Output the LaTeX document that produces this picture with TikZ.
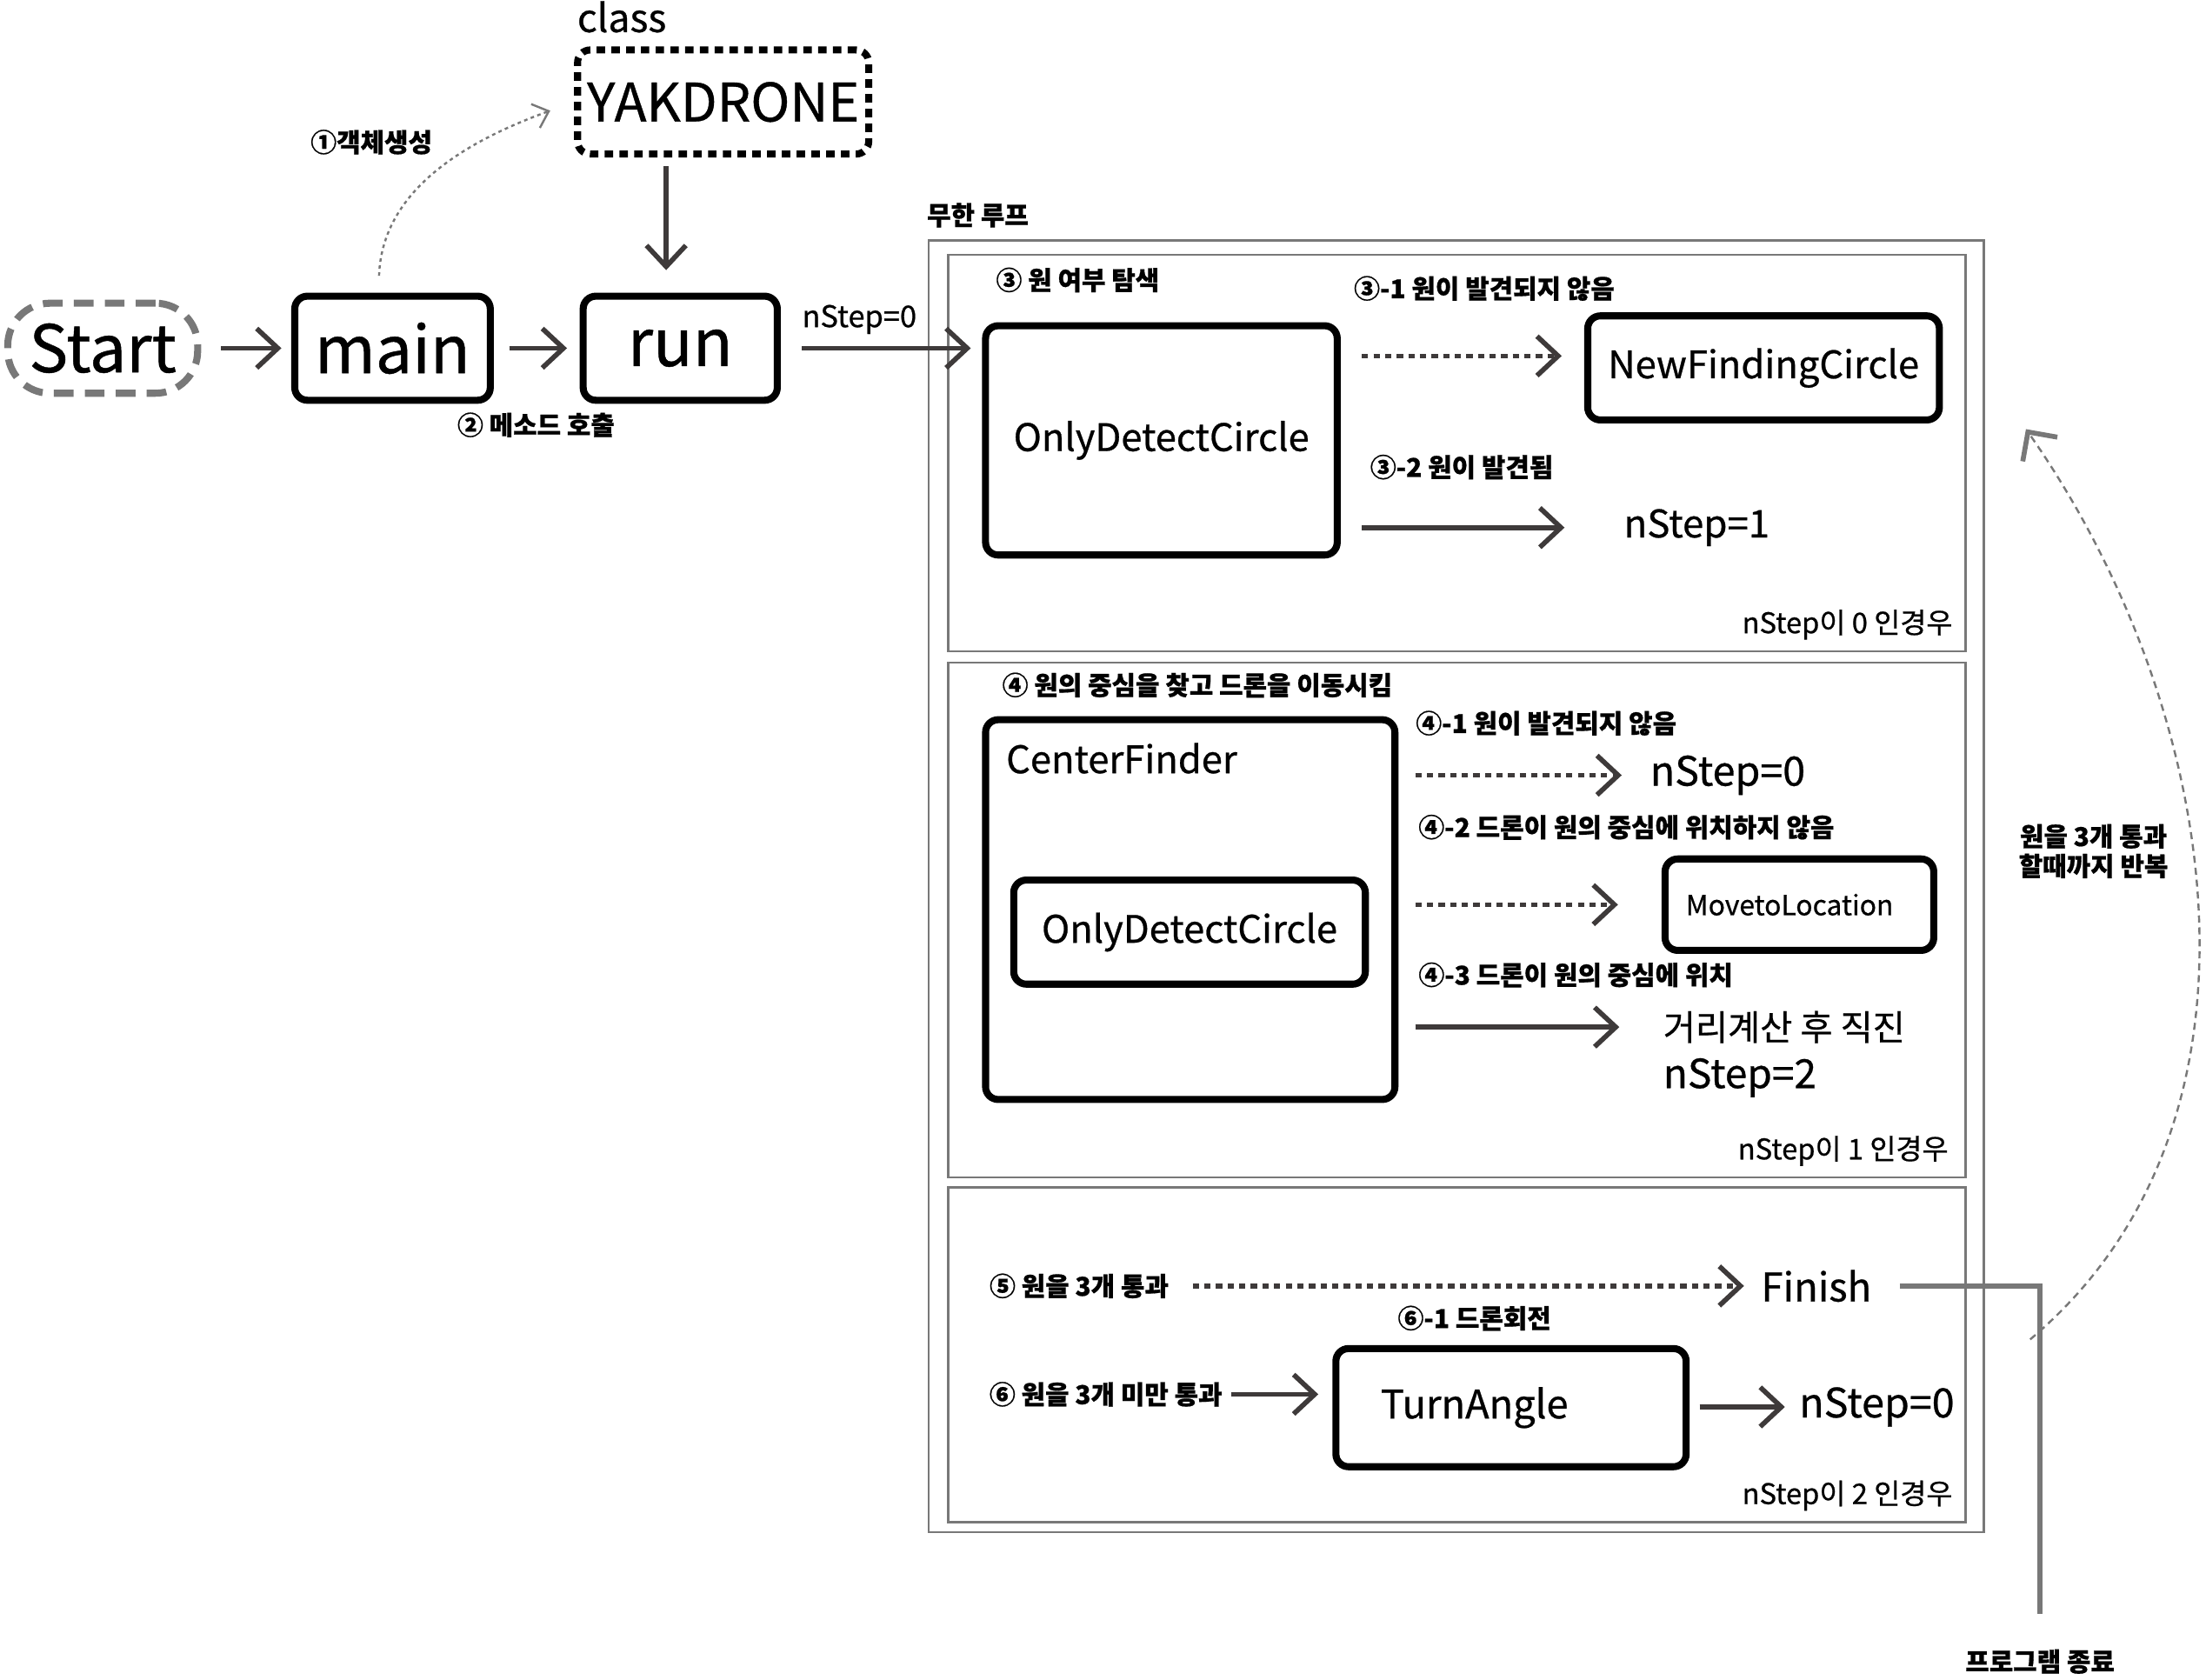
\documentclass[tikz,border=0pt]{standalone}
\usepackage{fontspec}
\setmainfont{Noto Sans CJK KR}[FakeBold=0.6]
\usetikzlibrary{arrows.meta}
\definecolor{arrowgray}{HTML}{3E3A3A}
\definecolor{linegray}{HTML}{787878}
\newcommand{\fsz}[1]{\fontsize{#1}{#1}\selectfont}
\begin{document}
\begin{tikzpicture}
[x=0.02cm,y=-0.02cm,
 box/.style={draw,line width=0.1cm,rounded corners=0.18cm,inner sep=0pt,font=\fsz{15.3}},
 arr/.style={draw=arrowgray,line width=0.07cm,-{Straight Barb[length=0.3cm,width=0.56cm]}},
 darr/.style={arr,dash pattern=on 0.09cm off 0.075cm},
 panel/.style={draw=linegray,line width=0.03cm},
 lab/.style={font=\bfseries\fsz{10.5}},
 cnd/.style={font=\fsz{11.5}},
 gcurve/.style={draw=linegray,line width=0.03cm,dash pattern=on 0.1cm off 0.07cm}]
\useasboundingbox (0,0) rectangle (1568,1193.5);

\node[draw=linegray,line width=0.1cm,dash pattern=on 0.28cm off 0.16cm,rounded corners=0.6cm,
  minimum width=2.7cm,minimum height=1.28cm,font=\fsz{26.5}] (start) at (73,247.5) {Start};
\node[box,minimum width=2.78cm,minimum height=1.48cm,font=\fsz{26.5}] (main) at (279,247.5) {main};
\node[box,minimum width=2.76cm,minimum height=1.48cm,font=\fsz{26.5}] (run) at (483.5,247.5) {run};
\node[box,dash pattern=on 0.12cm off 0.09cm,minimum width=4.14cm,minimum height=1.48cm,
  font=\fsz{21.4}] (yak) at (514,72.5) {YAKDRONE};
\node[font=\fsz{15.7}] (cls) at (442,12) {class};
\node[lab] (l1) at (264,101) {①객체생성};
\node[lab] (l2) at (381,302) {② 메소드 호출};

\draw[arr,shorten <=0.28cm,shorten >=0.14cm] (start) -- (main);
\draw[arr,shorten <=0.22cm,shorten >=0.18cm] (main) -- (run);
\draw[arr,shorten <=0.12cm,shorten >=0.32cm] ([xshift=-0.2cm]run.north |- yak.south) -- ([xshift=-0.2cm]run.north);
\draw[gcurve,dash pattern=on 0.05cm off 0.05cm,-{Straight Barb[length=0.2cm,width=0.36cm,line width=0.03cm]},
  shorten <=0.24cm,shorten >=0.36cm] ([xshift=-0.2cm]main.north) to[out=88,in=200] (yak.west);

\node[lab] (inf) at (695,153) {무한 루프};
\draw[panel] (660,171) rectangle (1410,1089);
\foreach \t/\b in {181/463,471/837,844/1082}
  \draw[panel] (674,\t) rectangle (1397,\b);

\node[box,minimum width=5cm,minimum height=3.26cm] (odc) at (825.5,313) {OnlyDetectCircle};
\node[box,minimum width=5cm,minimum height=1.48cm] (nfc) at (1253.5,261.5) {NewFindingCircle};
\node[font=\fsz{15.4}] (n1) at (1206,375) {nStep=1};
\node[lab] (l3) at (766,199) {③ 원 여부 탐색};
\node[lab] (l31) at (1055,205) {③-1 원이 발견되지 않음};
\node[lab] (l32) at (1039,332) {③-2 원이 발견됨};
\node[cnd,anchor=east] (c0) at (1394,444) {nStep이 0 인경우};

\draw[arr,shorten <=0.3cm,shorten >=0.16cm] (run.east) -- (run.east -| odc.west)
  node[pos=0.39,above=0.05cm,font=\fsz{12.1}] (ns0) {nStep=0};
\draw[darr,shorten <=0.3cm,shorten >=0.32cm] ([yshift=0.17cm]odc.east |- nfc.west) -- ([yshift=0.17cm]nfc.west);
\draw[arr,shorten <=0.3cm,shorten >=0.72cm] (odc.east |- n1.west) -- (n1.west);

\node[box,minimum width=5.82cm,minimum height=5.4cm] (cf) at (846,646.5) {};
\node[font=\fsz{15.3},anchor=west] (cft) at (709,539) {CenterFinder};
\node[box,minimum width=5cm,minimum height=1.48cm] (odc2) at (845.5,662.5) {OnlyDetectCircle};
\node[box,minimum width=3.82cm,minimum height=1.3cm,font=\fsz{11.2}] (mtl) at (1279,643) {MovetoLocation\rule{0.28cm}{0pt}};
\node[font=\fsz{16.4}] (n0) at (1228,551) {nStep=0};
\node[font=\fsz{14.2},anchor=west] (dist) at (1176,730) {거리계산 후 직진};
\node[font=\fsz{16.2},anchor=west] (n2) at (1176,766) {nStep=2};
\node[lab] (l4) at (851,487) {④ 원의 중심을 찾고 드론을 이동시킴};
\node[lab] (l41) at (1099,514) {④-1 원이 발견되지 않음};
\node[lab] (l42) at (1156,588) {④-2 드론이 원의 중심에 위치하지 않음};
\node[lab] (l43) at (1120,693) {④-3 드론이 원의 중심에 위치};
\node[cnd,anchor=east] (c1) at (1391,818) {nStep이 1 인경우};

\draw[darr,shorten <=0.24cm,shorten >=0.28cm] (cf.east |- n0.west) -- (n0.west);
\draw[darr,shorten <=0.24cm,shorten >=0.62cm] (cf.east |- mtl.west) -- (mtl.west);
\draw[arr,shorten <=0.24cm,shorten >=0.5cm] (cf.east |- dist.west) -- (dist.west);

\node[font=\fsz{16}] (fin) at (1291,914) {Finish};
\node[box,minimum width=4.98cm,minimum height=1.68cm,font=\fsz{15.9}] (ta) at (1074,1000.5) {TurnAngle\rule{1.04cm}{0pt}};
\node[font=\fsz{16.4}] (n0b) at (1334,1000) {nStep=0};
\node[lab] (l5) at (767,914) {⑤ 원을 3개 통과};
\node[lab] (l6) at (786,991) {⑥ 원을 3개 미만 통과};
\node[lab] (l61) at (1048,937) {⑥-1 드론회전};
\node[cnd,anchor=east] (c2) at (1394,1063) {nStep이 2 인경우};

\draw[darr,shorten <=0.22cm,shorten >=0.12cm] (l5) -- (fin);
\draw[arr,shorten >=0.2cm] (l6.east) -- (l6.east -| ta.west);
\draw[arr,shorten <=0.14cm,shorten >=0.08cm] (ta.east |- n0b.west) -- (n0b.west);

\node[lab] (prog) at (1450,1181) {프로그램 종료};
\draw[draw=linegray,line width=0.07cm,shorten <=0.28cm,shorten >=0.38cm] (fin.east) -| (prog.north);

\coordinate (lpa) at (1443,952);
\coordinate (lpb) at (1440,305);
\draw[gcurve,-{Straight Barb[length=0.3cm,width=0.6cm,line width=0.07cm]}] (lpa) to[out=40,in=-55,looseness=0.95] (lpb);
\node[font=\bfseries\fontsize{10.5}{12}\selectfont,align=center] (rep) at (1488,605) {원을 3개 통과\\할때까지 반복};
\end{tikzpicture}
\end{document}
